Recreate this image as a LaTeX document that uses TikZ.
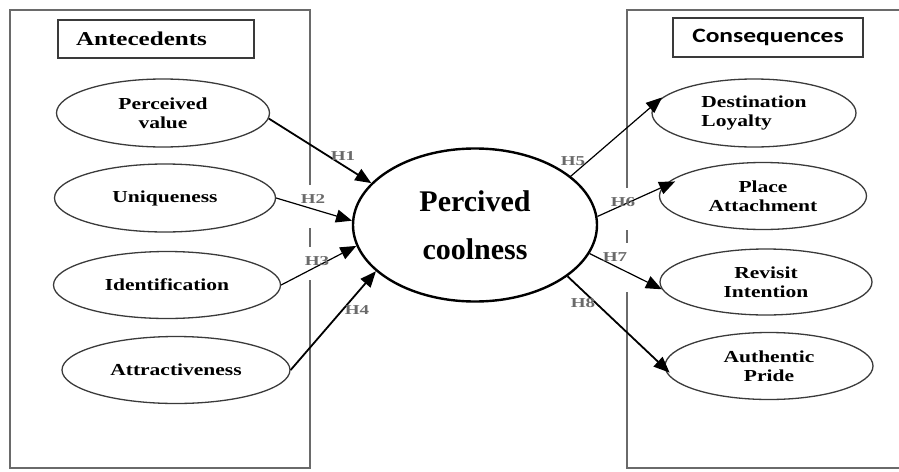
\documentclass[tikz,border=0pt]{standalone}
\usepackage{fontspec}
\setmainfont{Liberation Serif}
\newfontfamily\boxfont[FakeStretch=1.28]{Liberation Serif}
\newfontfamily\consfont[FakeStretch=1.25]{Carlito}
\newfontfamily\hypfont[FakeStretch=1.4]{Liberation Serif}
\usetikzlibrary{arrows.meta, shapes.geometric}

\definecolor{framegray}{HTML}{6A6A6A}
\definecolor{rimgray}{HTML}{3A3A3A}
\definecolor{hgray}{HTML}{6A6A6A}

\tikzset{
  construct/.style={draw=rimgray, line width=0.65pt, ellipse, inner sep=0pt, align=center,
    font=\boxfont\bfseries\fontsize{8.4}{9.4}\selectfont},
  hyp/.style={-{Triangle[length=8pt,width=6.5pt]}, line width=0.6pt},
  hlabel/.style={text=hgray, font=\hypfont\bfseries\fontsize{6.8}{8}\selectfont, inner sep=0pt},
  panel/.style={draw=framegray, line width=0.8pt},
}

\begin{document}
\begin{tikzpicture}[x=0.5pt, y=-0.5pt]
\useasboundingbox (0,0) rectangle (899,471);

% side panels, open where the labels sit
\draw[panel] (310,185) -- (310,10) -- (10,10) -- (10,468) -- (310,468) -- (310,280);
\draw[panel] (310,228) -- (310,247);
\draw[panel] (899,10) -- (627,10) -- (627,188);
\draw[panel] (627,230) -- (627,243);
\draw[panel] (627,292) -- (627,468) -- (899,468);

% panel titles
\node[draw=rimgray, line width=0.7pt, minimum height=19pt, text width=80pt, inner xsep=9pt, align=left,
  font=\boxfont\bfseries\fontsize{9.8}{11}\selectfont] (ante) at (156,39) {Antecedents};
\node[draw=rimgray, line width=0.7pt, minimum height=19.5pt, minimum width=95pt,
  font=\consfont\bfseries\fontsize{10.2}{12}\selectfont] (cons) at (768,37.5) {Consequences};

% antecedents
\node[construct, minimum width=106.5pt, minimum height=34pt] (pv) at (163,113) {Perceived\\value};
\node[construct, minimum width=110.5pt, minimum height=34pt] (uq) at (165,198) {Uniqueness};
\node[construct, minimum width=113.5pt, minimum height=33.5pt] (idf) at (167,285) {Identification};
\node[construct, minimum width=114pt, minimum height=33.5pt] (att) at (176,370) {Attractiveness};

% consequences
\node[construct, align=left, minimum width=102pt, minimum height=34pt] (dl) at (754,113) {Destination\\Loyalty};
\node[construct, minimum width=103.5pt, minimum height=33.5pt] (pa) at (763,196) {Place\\Attachment};
\node[construct, minimum width=106pt, minimum height=33pt] (ri) at (766,282) {Revisit\\Intention};
\node[construct, minimum width=104pt, minimum height=33.5pt] (ap) at (769,366) {Authentic\\Pride};

% central construct
\node[draw, ellipse, line width=1.2pt, inner sep=0pt, minimum width=122pt, minimum height=76.5pt, align=center,
  font=\bfseries\fontsize{15}{24}\selectfont] (cool) at (475,225) {Percived\\coolness};

% hypotheses
\draw[hyp, line width=0.9pt] (pv.-3) -- (cool.158);
\draw[hyp] (uq.east) -- (cool.178);
\draw[hyp] (idf.east) -- (cool.190);
\draw[hyp, line width=0.9pt] (att.east) -- (cool.205);
\draw[hyp, shorten >=-4pt] (cool.27) -- (dl.174);
\draw[hyp, shorten >=-7pt] (cool.4) -- (pa.175);
\draw[hyp] (cool.346) -- (ri.184);
\draw[hyp, line width=0.9pt, shorten >=-3.5pt] (cool.331) -- (ap.181);

\node[hlabel] (h1) at (343,156) {H1};
\node[hlabel] (h2) at (313,199) {H2};
\node[hlabel] (h3) at (317,261) {H3};
\node[hlabel] (h4) at (357,310) {H4};
\node[hlabel] (h5) at (573,161) {H5};
\node[hlabel] (h6) at (623,202) {H6};
\node[hlabel] (h7) at (615,257) {H7};
\node[hlabel] (h8) at (583,303) {H8};
\end{tikzpicture}
\end{document}
